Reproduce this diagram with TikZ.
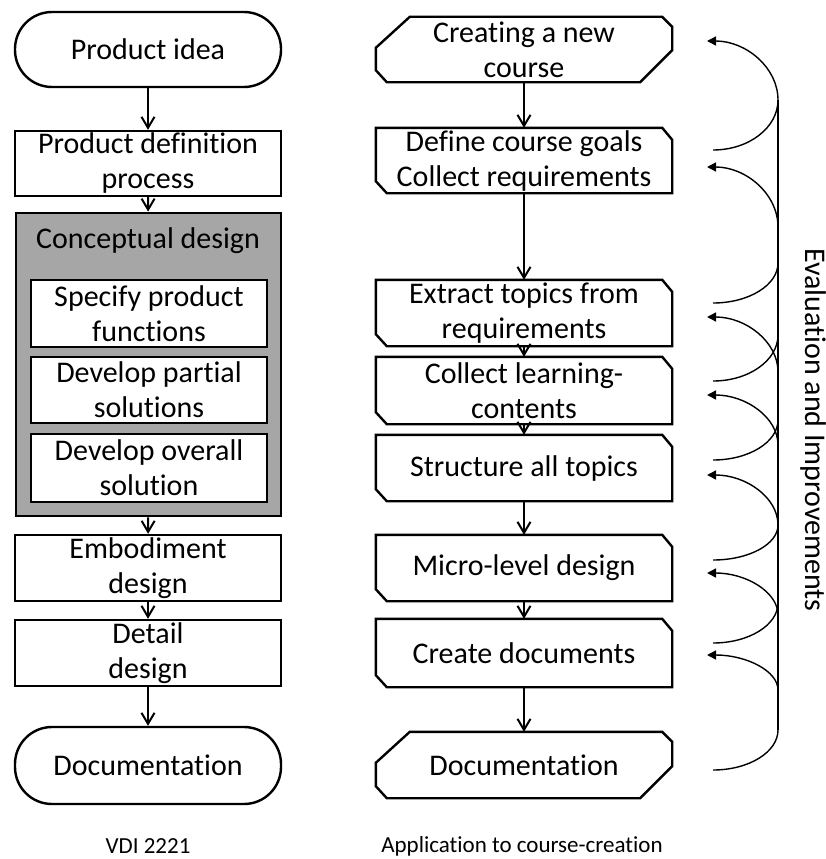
\documentclass[tikz,border=0pt]{standalone}
\usepackage{fontspec}
\setmainfont{Carlito}[Ligatures=NoCommon]
\usetikzlibrary{arrows.meta}

% right-column step: cut corners at top right and bottom left
\newcommand\stepshape[1]{%
  \draw[cutline] (#1.north west) -- ([xshift=-10pt]#1.north east)
    -- ([yshift=-12pt]#1.north east) -- (#1.south east)
    -- ([xshift=11pt]#1.south west) -- ([yshift=12pt]#1.south west) -- cycle;}
% right-column start/end: large cuts top left and bottom right
\newcommand\termshape[1]{%
  \draw[cutline] ([xshift=34pt]#1.north west) -- ([xshift=-10pt]#1.north east)
    -- ([yshift=-10pt]#1.north east) -- ([yshift=32pt]#1.south east)
    -- ([xshift=-32pt]#1.south east) -- ([xshift=11pt]#1.south west)
    -- ([yshift=12pt]#1.south west) -- ([yshift=-31pt]#1.north west) -- cycle;}
% feedback arcs: from the bus up-left to an arrow tip
\newcommand\fbup[3]{%
  \coordinate (#1t) at (707,#2);
  \coordinate (#1b) at (778,#3);
  \draw[fbline,-{Triangle[length=9pt,width=9pt]}] (#1b)
    .. controls +(0,{-0.55*(#3-#2)}) and +(39,0) .. (#1t);}
% feedback arcs: from the bus down-left to a free tail
\newcommand\fbtail[3]{%
  \coordinate (#1t) at (713,#2);
  \coordinate (#1b) at (778,#3);
  \draw[fbline] (#1b) .. controls +(0,{0.55*(#2-#3)}) and +(36,0) .. (#1t);}

\begin{document}
\begin{tikzpicture}[x=1pt,y=-1pt,
  lbl/.style={font=\fontsize{30}{35}\selectfont, align=center, inner sep=0pt},
  box/.style={draw, line width=2.4pt, fill=white, minimum width=266pt, inner sep=0pt},
  stadium/.style={box, rounded corners=37pt},
  inbox/.style={box, minimum width=236pt},
  grp/.style={draw, line width=2.8pt, fill=groupgray, minimum width=265pt, minimum height=303pt, inner sep=0pt},
  rbox/.style={minimum width=296pt, inner sep=0pt},
  cutline/.style={draw, line width=2.4pt, line join=miter},
  flow/.style={line width=2pt, -{Straight Barb[length=11pt,width=13pt]}},
  fbline/.style={line width=1.4pt},
  caption/.style={font=\fontsize{23}{27}\selectfont, inner sep=0pt}
]
\definecolor{groupgray}{RGB}{166,166,166}
\useasboundingbox (0,0) rectangle (826,859);

% ---- VDI 2221 column ----
\node[stadium, minimum height=75pt, label={[lbl]center:Product idea}] (idea) at (148,49.5) {};
\node[box, minimum height=65pt, label={[lbl]center:{Product definition\\process}}] (pdef) at (148,163.5) {};
\node[grp] (concept) at (148.5,364.5) {};
\node[lbl] (ctitle) at (148,241) {Conceptual design};
\node[inbox, minimum height=67pt, label={[lbl]center:{Specify product\\functions}}] (spec) at (149,313.5) {};
\node[inbox, minimum height=66pt, label={[lbl]center:{Develop partial\\solutions}}] (partial) at (149,390) {};
\node[inbox, minimum height=68pt, label={[lbl]center:{Develop overall\\solution}}] (overall) at (149,468) {};
\node[box, minimum height=66pt, label={[lbl]center:{Embodiment\\design}}] (embod) at (148,568) {};
\node[box, minimum height=66pt, label={[lbl]center:{Detail\\design}}] (detail) at (148,653) {};
\node[stadium, minimum height=77pt, label={[lbl]center:Documentation}] (doca) at (148,765.5) {};

\draw[flow] (idea) -- (pdef);
\draw[flow] (pdef) -- (concept);
\draw[flow] (concept) -- (embod);
\draw[flow] (embod) -- (detail);
\draw[flow] (detail) -- (doca);

% ---- course-creation column ----
\node[rbox, minimum height=65pt, label={[lbl]center:{Creating a new\\course}}] (create) at (524,49.5) {};
\node[rbox, minimum height=65pt, label={[lbl]center:{Define course goals\\Collect requirements}}] (define) at (524,160.5) {};
\node[rbox, minimum height=66pt, label={[lbl]center:{Extract topics from\\requirements}}] (extract) at (524,313) {};
\node[rbox, minimum height=67pt, label={[lbl]center:{Collect learning-\\contents}}] (collect) at (524,390.5) {};
\node[rbox, minimum height=66pt, label={[lbl]center:Structure all topics}] (struct) at (524,468) {};
\node[rbox, minimum height=66pt, label={[lbl]center:Micro-level design}] (micro) at (524,568) {};
\node[rbox, minimum height=68pt, label={[lbl]center:Create documents}] (cdocs) at (524,653) {};
\node[rbox, minimum height=66pt, label={[lbl]center:Documentation}] (docb) at (524,765) {};

\termshape{create}
\stepshape{define}
\stepshape{extract}
\stepshape{collect}
\stepshape{struct}
\stepshape{micro}
\stepshape{cdocs}
\termshape{docb}

\draw[flow] (create) -- (define);
\draw[flow] (define) -- (extract);
\draw[flow] (extract) -- (collect);
\draw[flow] (collect) -- (struct);
\draw[flow] (struct) -- (micro);
\draw[flow] (micro) -- (cdocs);
\draw[flow] (cdocs) -- (docb);

% ---- feedback bus ----
\coordinate (bustop) at (778,100);
\coordinate (busbot) at (778,730);
\draw[fbline] (bustop) -- (busbot);
\fbup{a1}{41}{100}
\fbup{a2}{167}{227}
\fbup{a3}{317}{372}
\fbup{a4}{395}{445}
\fbup{a5}{475}{525}
\fbup{a6}{573}{615}
\fbup{a7}{655}{690}
\fbtail{t1}{150}{100}
\fbtail{t2}{303}{263}
\fbtail{t3}{381}{335}
\fbtail{t4}{460}{420}
\fbtail{t5}{560}{525}
\fbtail{t6}{643}{603}
\fbtail{t7}{770}{730}

\node[lbl, rotate=-90] (evalimp) at (813,430) {Evaluation and Improvements};

% ---- captions ----
\node[caption] (capa) at (148,846) {VDI 2221};
\node[caption] (capb) at (522,846) {Application to course-creation};
\end{tikzpicture}
\end{document}
